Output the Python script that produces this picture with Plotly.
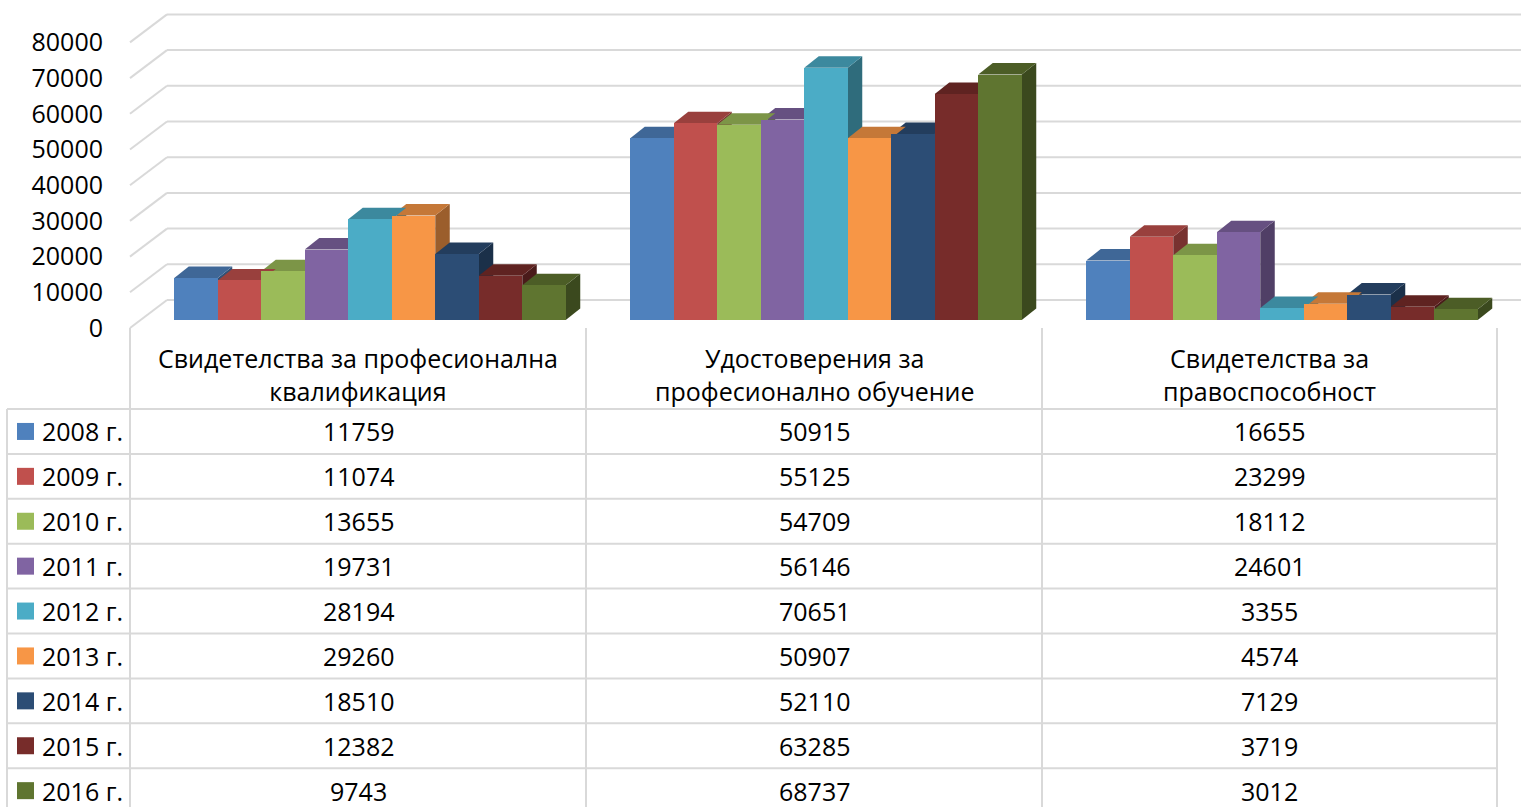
import plotly.graph_objects as go

# ---------------- data ----------------
categories = ["Свидетелства за професионална<br>квалификация",
              "Удостоверения за<br>професионално обучение",
              "Свидетелства за<br>правоспособност"]
years = ["2008 г.", "2009 г.", "2010 г.", "2011 г.", "2012 г.",
         "2013 г.", "2014 г.", "2015 г.", "2016 г."]
v2008 = [11759, 50915, 16655]
v2009 = [11074, 55125, 23299]
v2010 = [13655, 54709, 18112]
v2011 = [19731, 56146, 24601]
v2012 = [28194, 70651, 3355]
v2013 = [29260, 50907, 4574]
v2014 = [18510, 52110, 7129]
v2015 = [12382, 63285, 3719]
v2016 = [9743, 68737, 3012]
series = [v2008, v2009, v2010, v2011, v2012, v2013, v2014, v2015, v2016]
ytick_vals = [0, 10000, 20000, 30000, 40000, 50000, 60000, 70000, 80000]
colors = ['#4F81BD', '#C0504D', '#9BBB59', '#8064A2', '#4BACC6',
          '#F79646', '#2C4D75', '#772C2A', '#5F7530']

# ---------------- layout constants ----------------
W, H = 1525, 807
PLOT_L = 130          # px, left edge of plot area / table header
CAT_PX = 456          # px per category
Y0 = 320              # px from top where value 0 sits (bar depth)
PPU = 285.6 / 80000   # px per unit
BAR_PX = 43.5
GROUP_SHIFT_PX = 12
DX_PX, DY_PX = 14.5, 11.5
GRID = '#d9d9d9'
FONT = "Open Sans"
FS = 25


def shade(hexc, f):
    h = hexc.lstrip('#')
    r, g, b = (int(h[i:i + 2], 16) for i in (0, 2, 4))
    return '#%02x%02x%02x' % (int(r * f), int(g * f), int(b * f))


bw = BAR_PX / CAT_PX
shift = GROUP_SHIFT_PX / CAT_PX
dx = DX_PX / CAT_PX
dy = DY_PX / PPU
n = len(series)

fig = go.Figure()
shapes = []

# back-wall gridlines with the oblique left side wall
for v in ytick_vals:
    shapes.append(dict(type='line', xref='paper', yref='y', layer='below',
                       x0=167 / W, x1=1521 / W, y0=v + 20 / PPU, y1=v + 20 / PPU,
                       line=dict(color=GRID, width=2)))
    shapes.append(dict(type='line', xref='paper', yref='y', layer='below',
                       x0=PLOT_L / W, x1=167 / W, y0=v - 8 / PPU, y1=v + 20 / PPU,
                       line=dict(color=GRID, width=2)))

side_shapes, top_shapes = [], []
for j, vals in enumerate(series):
    xs = [i + shift + (j - (n - 1) / 2) * bw for i in range(len(vals))]
    fig.add_trace(go.Bar(x=xs, y=vals, width=bw, name=years[j],
                         marker=dict(color=colors[j], line=dict(width=0)),
                         hoverinfo='skip', showlegend=False))
    for xc, v in zip(xs, vals):
        L, R = xc - bw / 2, xc + bw / 2
        side_shapes.append(dict(
            type='path', xref='x', yref='y', layer='below', line=dict(width=0),
            fillcolor=shade(colors[j], 0.63),
            path=f'M{R},0 L{R},{v} L{R + dx},{v + dy} L{R + dx},{dy} Z'))
        top_shapes.append((xc, dict(
            type='path', xref='x', yref='y', layer='below', line=dict(width=0),
            fillcolor=shade(colors[j], 0.8),
            path=f'M{L},{v} L{R},{v} L{R + dx},{v + dy} L{L + dx},{v + dy} Z')))

shapes += side_shapes
# draw top faces right-to-left so left ones sit above
shapes += [s for _, s in sorted(top_shapes, key=lambda t: -t[0])]

# ---------------- data table ----------------
col_x = [PLOT_L + k * CAT_PX for k in range(len(categories) + 1)]
col_x[-1] = 1497
row_top = 409
row_h = 44.9
left_x = 7
for cx in col_x:
    shapes.append(dict(type='line', xref='paper', yref='paper',
                       x0=cx / W, x1=cx / W, y0=1 - 328 / H, y1=0,
                       line=dict(color=GRID, width=2)))
shapes.append(dict(type='line', xref='paper', yref='paper',
                   x0=left_x / W, x1=left_x / W, y0=1 - row_top / H, y1=0,
                   line=dict(color=GRID, width=2)))
for k in range(len(years)):
    yy = row_top + k * row_h
    shapes.append(dict(type='line', xref='paper', yref='paper',
                       x0=left_x / W, x1=col_x[-1] / W, y0=1 - yy / H, y1=1 - yy / H,
                       line=dict(color=GRID, width=2)))

annotations = []
for i, cat in enumerate(categories):
    cx = (col_x[i] + col_x[i + 1]) / 2
    annotations.append(dict(xref='paper', yref='paper', x=cx / W, y=1 - 374 / H,
                            text=cat, showarrow=False, xanchor='center', yanchor='middle',
                            font=dict(family=FONT, size=FS, color='black')))
for j, vals in enumerate(series):
    yc = row_top + (j + 0.5) * row_h
    shapes.append(dict(type='rect', xref='paper', yref='paper',
                       x0=17 / W, x1=34 / W, y0=1 - (yc - 8.5) / H, y1=1 - (yc + 8.5) / H,
                       fillcolor=colors[j], line=dict(width=0)))
    annotations.append(dict(xref='paper', yref='paper', x=40 / W, y=1 - yc / H,
                            text=years[j], showarrow=False, xanchor='left', yanchor='middle',
                            font=dict(family=FONT, size=FS, color='black')))
    for i, v in enumerate(vals):
        cx = (col_x[i] + col_x[i + 1]) / 2
        annotations.append(dict(xref='paper', yref='paper', x=cx / W, y=1 - yc / H,
                                text=str(v), showarrow=False, xanchor='center', yanchor='middle',
                                font=dict(family=FONT, size=FS, color='black')))

fig.update_layout(
    width=W, height=H, margin=dict(l=0, r=0, t=0, b=0),
    paper_bgcolor='white', plot_bgcolor='rgba(0,0,0,0)',
    barmode='overlay', bargap=0,
    font=dict(family=FONT, size=FS, color='black'),
    xaxis=dict(domain=[PLOT_L / W, 1], range=[-0.5, -0.5 + (W - PLOT_L) / CAT_PX],
               showgrid=False, zeroline=False, showticklabels=False, showline=False,
               fixedrange=True),
    yaxis=dict(domain=[0, 1], range=[-(H - Y0) / PPU, Y0 / PPU],
               tickvals=ytick_vals, ticktext=[str(v) for v in ytick_vals],
               showgrid=False, zeroline=False, showline=False, ticks='',
               ticklabelshift=8, ticklabelstandoff=26,
               tickfont=dict(family=FONT, size=FS, color='black'), fixedrange=True),
    shapes=shapes, annotations=annotations,
)

fig.write_html("out.html", config={'displayModeBar': False},
               post_script="document.body.style.margin='0';document.body.style.overflow='hidden';")
